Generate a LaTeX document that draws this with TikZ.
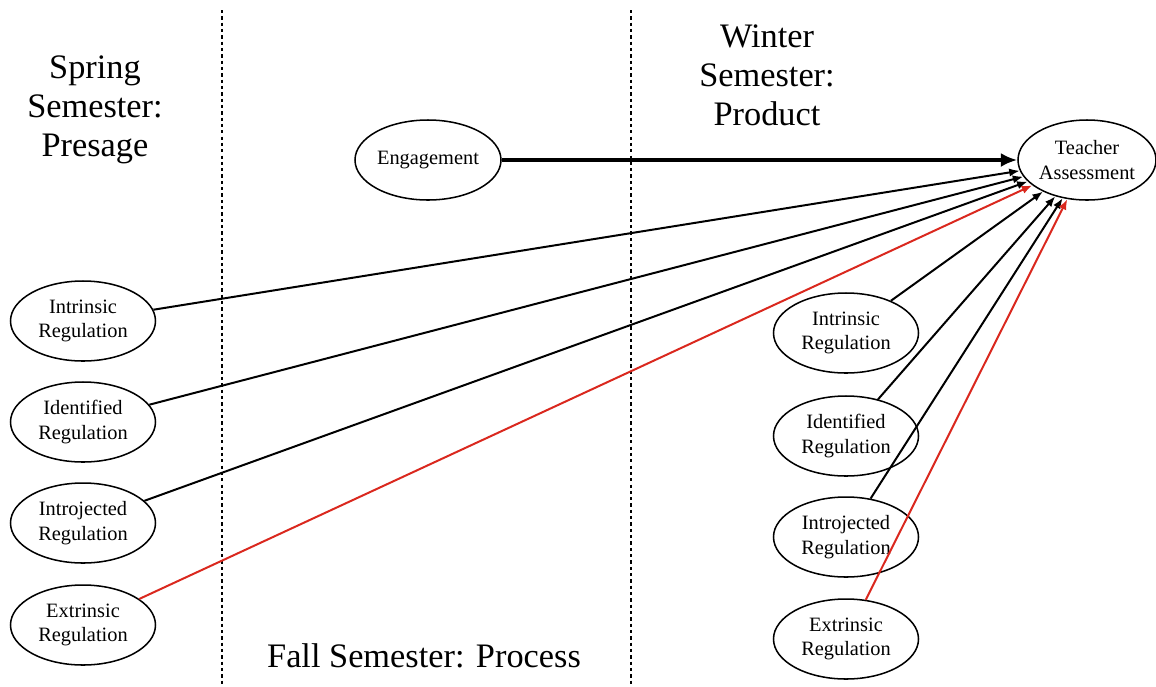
\documentclass[tikz,border=0pt]{standalone}
\usepackage{fontspec}
\setmainfont{Liberation Serif}
\usetikzlibrary{shapes.geometric,arrows.meta}
\definecolor{pathred}{RGB}{218,40,30}
\begin{document}
\begin{tikzpicture}[x=0.03cm,y=-0.03cm,
  construct/.style={ellipse,draw,line width=1.3pt,inner sep=0pt,
    minimum width=4.35cm,minimum height=2.4cm,align=center,
    font=\fontsize{17.4}{21}\selectfont},
  title/.style={align=center,inner sep=0pt,font=\fontsize{29.3}{33.4}\selectfont},
  divider/.style={line width=1.8pt,dash pattern=on 2.8pt off 2.6pt},
  path/.style={line width=1.7pt,-{Latex[length=9pt,width=7pt]}},
  mainpath/.style={line width=3pt,-{Latex[length=14pt,width=12pt]}},
  neg/.style={draw=pathred,fill=pathred}]
\useasboundingbox (0,0) rectangle (1156,686);

% phase dividers
\coordinate (d1t) at (222,10); \coordinate (d1b) at (222,686);
\coordinate (d2t) at (631,10); \coordinate (d2b) at (631,686);
\draw[divider] (d1t) -- (d1b);
\draw[divider] (d2t) -- (d2b);

% phase titles
\node[title] (spring) at (95,110) {Spring\\Semester:\\Presage};
\node[title] (winter) at (767,75) {Winter\\Semester:\\Product};
\node[title,anchor=base] (fall) at (424,667) {Fall Semester: Process};

% constructs
\node[construct,minimum width=4.38cm] (eng) at (428,160) {Engagement};
\node[construct,minimum width=4.14cm] (ta) at (1087,160) {Teacher\\Assessment};

\node[construct] (intrL) at (83,321) {Intrinsic\\Regulation};
\node[construct] (idenL) at (83,422) {Identified\\Regulation};
\node[construct] (introL) at (83,523) {Introjected\\Regulation};
\node[construct] (extrL) at (83,625) {Extrinsic\\Regulation};

\node[construct] (intrR) at (846,333) {Intrinsic\\Regulation};
\node[construct] (idenR) at (846,436) {Identified\\Regulation};
\node[construct] (introR) at (846,537) {Introjected\\Regulation};
\node[construct] (extrR) at (846,639) {Extrinsic\\Regulation};

% paths to teacher assessment
\draw[mainpath] (eng) -- (ta);
\draw[path] (intrL) -- (ta);
\draw[path] (idenL) -- (ta);
\draw[path] (introL) -- (ta);
\draw[path,pathred,neg] (extrL) -- (ta);
\draw[path] (intrR) -- (ta);
\draw[path] (idenR) -- (ta);
\draw[path] (introR) -- (ta);
\draw[path,pathred,neg] (extrR) -- (ta);
\end{tikzpicture}
\end{document}
